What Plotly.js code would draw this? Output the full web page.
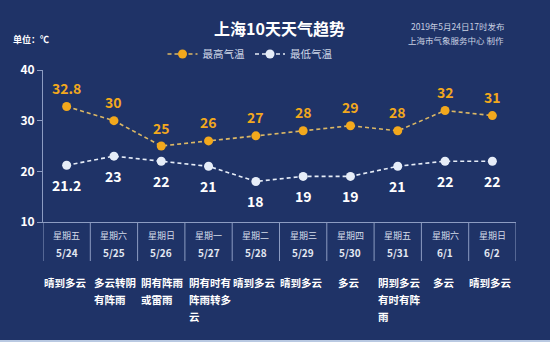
<!DOCTYPE html>
<html>
<head>
<meta charset="utf-8">
<script src="https://cdn.plot.ly/plotly-3.0.1.min.js"></script>
<style>html,body{margin:0;padding:0;background:#1f3367;}#chart{width:550px;height:342px;}</style>
</head>
<body>
<div id="chart"></div>
<script>
var dates = ["5/24","5/25","5/26","5/27","5/28","5/29","5/30","5/31","6/1","6/2"];
var weekdays = ["星期五","星期六","星期日","星期一","星期二","星期三","星期四","星期五","星期六","星期日"];
var highTemps = [32.8, 30, 25, 26, 27, 28, 29, 28, 32, 31];
var lowTemps = [21.2, 23, 22, 21, 18, 19, 19, 21, 22, 22];
var weather = ["晴到多云","多云转阴<br>有阵雨","阴有阵雨<br>或雷雨","阴有时有<br>阵雨转多<br>云","晴到多云","晴到多云","多云","阴到多云<br>有时有阵<br>雨","多云","晴到多云"];
var yTicks = [10, 20, 30, 40];

var FONT = "'Noto Sans CJK SC', 'Noto Sans', sans-serif";
var bg = "#1f3367";
var axisCol = "#8c9cc2";
var orange = "#f2a81d";
var orangeLine = "#dcb865";
var white = "#e6edf8";

var idx = dates.map(function(d,i){return i;});
// pixel -> paper helpers for plot area (top 70, bottom 222)
function py(p){ return (222 - p) / 152; }

var traces = [
  {x: idx, y: highTemps, name: "最高气温", mode: "lines+markers", type: "scatter",
   line: {color: orangeLine, width: 1.6, dash: "4px,3px"},
   marker: {color: orange, size: 9}},
  {x: idx, y: lowTemps, name: "最低气温", mode: "lines+markers", type: "scatter",
   line: {color: white, width: 1.6, dash: "4px,3px"},
   marker: {color: white, size: 9}}
];

var annotations = [];
idx.forEach(function(i){
  annotations.push({x: i, y: highTemps[i], xref: "x", yref: "y", text: String(highTemps[i]),
    showarrow: false, yshift: 18.5, font: {family: FONT, size: 14, color: orange, weight: "bold"}});
  annotations.push({x: i, y: lowTemps[i], xref: "x", yref: "y", text: String(lowTemps[i]),
    showarrow: false, yshift: -20, font: {family: FONT, size: 14, color: "#ffffff", weight: "bold"}});
  annotations.push({x: i, y: py(235), xref: "x", yref: "paper", text: weekdays[i],
    showarrow: false, yanchor: "middle", font: {family: FONT, size: 9, color: "#d5dcea"}});
  annotations.push({x: i, y: py(252), xref: "x", yref: "paper", text: dates[i],
    showarrow: false, yanchor: "middle", font: {family: FONT, size: 10, color: "#e3e8f2", weight: "bold"}});
  var lines = weather[i].split("<br>");
  lines.forEach(function(t, j){
    var multi = lines.length > 1;
    annotations.push({x: i, y: py(282 + 17 * j), xref: "x", yref: "paper", text: t,
      showarrow: false, yanchor: "middle", xanchor: multi ? "left" : "center", xshift: multi ? -22 : -2,
      font: {family: FONT, size: 10.5, color: "#ffffff", weight: "bold"}});
  });
});
annotations.push({xref: "paper", yref: "paper", x: (51-43)/473, y: py(40), xanchor: "right", yanchor: "middle",
  text: "单位：℃", showarrow: false, font: {family: FONT, size: 9, color: "#ffffff", weight: "bold"}});
annotations.push({xref: "paper", yref: "paper", x: (457-43)/473, y: py(26), xanchor: "center", yanchor: "middle",
  text: "2019年5月24日17时发布", showarrow: false, font: {family: FONT, size: 8.5, color: "#c9d1e2"}});
annotations.push({xref: "paper", yref: "paper", x: (456-43)/473, y: py(40), xanchor: "center", yanchor: "middle",
  text: "上海市气象服务中心 制作", showarrow: false, font: {family: FONT, size: 8.5, color: "#c9d1e2"}});

var shapes = [];
for (var k = 0; k <= dates.length; k++) {
  shapes.push({type: "line", xref: "x", yref: "paper", x0: k - 0.5, x1: k - 0.5, y0: 0, y1: py(261),
    line: {color: axisCol, width: 1}});
}
shapes.push({type: "rect", xref: "paper", yref: "paper", x0: -0.2, x1: 1.2, y0: py(340), y1: py(343),
  fillcolor: "#b9c9e2", line: {width: 0}});

var layout = {
  width: 550, height: 342,
  paper_bgcolor: bg, plot_bgcolor: bg,
  margin: {l: 43, r: 34, t: 70, b: 120},
  title: {text: "上海10天天气趋势", x: 0.5, xref: "paper", y: 1 - 29/342, yanchor: "middle",
    font: {family: FONT, size: 16, color: "#ffffff", weight: "bold"}},
  showlegend: true,
  legend: {orientation: "h", x: (250 - 43) / 473, xanchor: "center", y: py(54), yanchor: "middle",
    font: {family: FONT, size: 10.5, color: "#cfd7e7"}, itemwidth: 30, bgcolor: "rgba(0,0,0,0)"},
  xaxis: {range: [-0.5, dates.length - 0.5], showgrid: false, zeroline: false, showticklabels: false,
    showline: true, linecolor: axisCol, linewidth: 1, ticks: "", fixedrange: true},
  yaxis: {range: [10, 40], tickvals: yTicks, showgrid: false, zeroline: false,
    showline: true, linecolor: axisCol, linewidth: 1, ticks: "outside", ticklen: 5, tickcolor: axisCol,
    tickfont: {family: FONT, size: 12, color: "#ffffff", weight: "bold"}, fixedrange: true},
  annotations: annotations,
  shapes: shapes
};

Plotly.newPlot("chart", traces, layout, {displayModeBar: false, staticPlot: true});
</script>
</body>
</html>
